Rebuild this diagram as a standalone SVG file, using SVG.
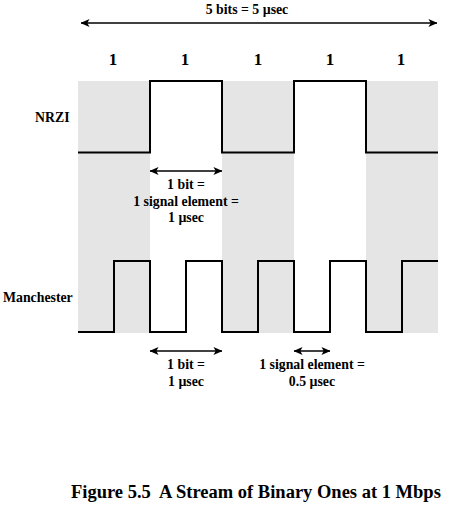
<svg xmlns="http://www.w3.org/2000/svg" width="451" height="510" viewBox="0 0 451 510">
<defs>
<marker id="ah" viewBox="0 0 10 10" refX="9.5" refY="5" markerWidth="9" markerHeight="8" markerUnits="userSpaceOnUse" orient="auto-start-reverse" preserveAspectRatio="none">
<path d="M0,0 L10,5 L0,10 L2.5,5 Z" fill="#000"/>
</marker>
</defs>
<style>
.band{fill:#e5e5e5}
.wave{fill:none;stroke:#000;stroke-width:2;stroke-linejoin:miter}
.dim{stroke:#000;stroke-width:1.5;fill:none;marker-start:url(#ah);marker-end:url(#ah)}
text{font-family:"Liberation Serif","Times New Roman",serif;font-weight:bold;fill:#000}
.lbl{font-size:13.8px}
.bit{font-size:17px;text-anchor:middle}
.mid{text-anchor:middle}
.cap{font-size:18.5px;white-space:pre}
</style>
<rect width="451" height="510" fill="#fff"/>
<g id="bands">
<rect class="band" x="78" y="81" width="72" height="252"/>
<rect class="band" x="222" y="81" width="72" height="252"/>
<rect class="band" x="366" y="81" width="72" height="252"/>
</g>
<g id="nrzi">
<text class="lbl" x="35" y="122">NRZI</text>
<polyline class="wave" points="78,152.5 150,152.5 150,81 222,81 222,152.5 294,152.5 294,81 366,81 366,152.5 438,152.5"/>
</g>
<g id="manchester">
<text class="lbl" x="3" y="302">Manchester</text>
<polyline class="wave" points="78,332 114,332 114,261 150,261 150,332 186,332 186,261 222,261 222,332 258,332 258,261 294,261 294,332 330,332 330,261 366,261 366,332 402,332 402,261 438,261"/>
</g>
<g id="bits">
<text class="bit" x="113" y="65">1</text>
<text class="bit" x="185" y="65">1</text>
<text class="bit" x="258" y="65">1</text>
<text class="bit" x="330" y="65">1</text>
<text class="bit" x="401" y="65">1</text>
</g>
<g id="connectors">
<line class="dim" x1="81" y1="23" x2="437" y2="23"/>
<line class="dim" x1="150" y1="171" x2="222" y2="171"/>
<line class="dim" x1="150" y1="351" x2="222" y2="351"/>
<line class="dim" x1="294" y1="351" x2="330" y2="351"/>
</g>
<g id="labels">
<text class="lbl mid" x="247" y="14">5 bits = 5 µsec</text>
<text class="lbl mid" x="186" y="189">1 bit =</text>
<text class="lbl mid" x="186" y="205.5">1 signal element =</text>
<text class="lbl mid" x="186" y="222">1 µsec</text>
<text class="lbl mid" x="186" y="369">1 bit =</text>
<text class="lbl mid" x="186" y="385.5">1 µsec</text>
<text class="lbl mid" x="312" y="369">1 signal element =</text>
<text class="lbl mid" x="312" y="385.5">0.5 µsec</text>
</g>
<g id="caption">
<text class="cap" x="71" y="498" xml:space="preserve">Figure 5.5  A Stream of Binary Ones at 1 Mbps</text>
</g>
</svg>
